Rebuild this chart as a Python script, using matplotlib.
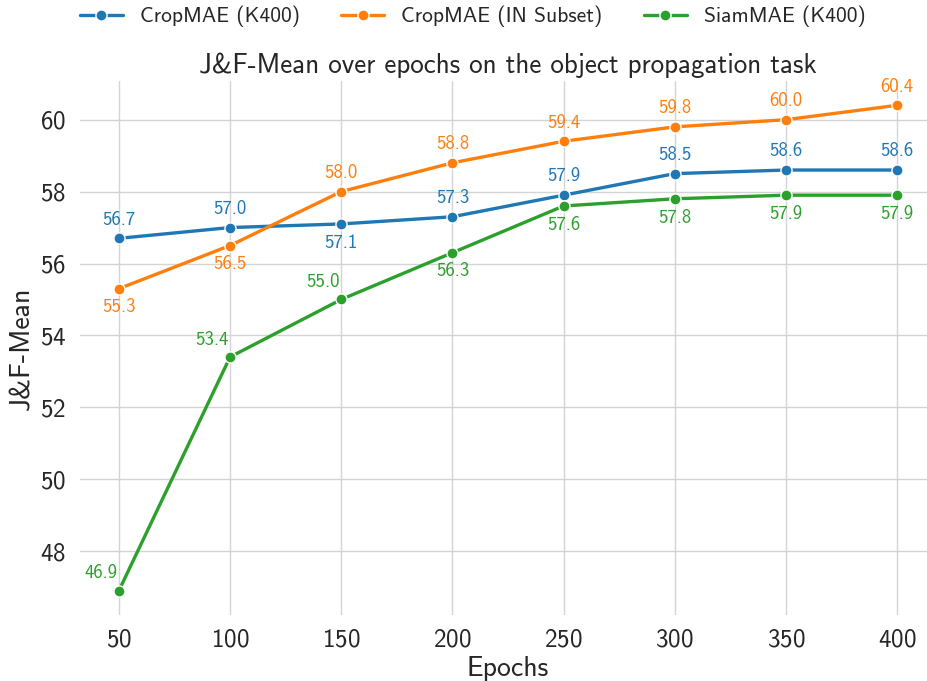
import matplotlib

matplotlib.use("Agg")
import matplotlib.pyplot as plt
import seaborn as sns

epochs = [50, 100, 150, 200, 250, 300, 350, 400]
cropmae_k400 = [56.7, 57.0, 57.1, 57.3, 57.9, 58.5, 58.6, 58.6]
cropmae_in = [55.3, 56.5, 58.0, 58.8, 59.4, 59.8, 60.0, 60.4]
siammae_k400 = [46.9, 53.4, 55.0, 56.3, 57.6, 57.8, 57.9, 57.9]

series_names = ["CropMAE (K400)", "CropMAE (IN Subset)", "SiamMAE (K400)"]
# label placement per point: "a" above, "b" below, "l" above-left
placements = [
    ["a", "a", "b", "a", "a", "a", "a", "a"],
    ["b", "b", "a", "a", "a", "a", "a", "a"],
    ["l", "l", "l", "b", "b", "b", "b", "b"],
]

sns.set_theme(style="whitegrid")
plt.rcParams["font.family"] = ["cmss10", "DejaVu Sans"]
plt.rcParams["axes.formatter.use_mathtext"] = True

colors = sns.color_palette("tab10")[:3]

fig = plt.figure(figsize=(9.27, 6.81), dpi=100)
ax = fig.add_axes([0.0863, 0.097, 0.9234, 0.784])

for name, values, place, color in zip(
    series_names, [cropmae_k400, cropmae_in, siammae_k400], placements, colors
):
    ax.plot(epochs, values, color=color, lw=2.4, marker="o", ms=8,
            mec="white", mew=1.0, label=name)
    for x, y, p in zip(epochs, values, place):
        if p == "a":
            ax.annotate(f"{y:.1f}", (x, y), xytext=(0, 7), textcoords="offset points",
                        ha="center", va="bottom", color=color, fontsize=13.5)
        elif p == "b":
            ax.annotate(f"{y:.1f}", (x, y), xytext=(0, -7), textcoords="offset points",
                        ha="center", va="top", color=color, fontsize=13.5)
        else:
            ax.annotate(f"{y:.1f}", (x, y), xytext=(-1, 6), textcoords="offset points",
                        ha="right", va="bottom", color=color, fontsize=13.5)

ax.set_xticks(epochs)
ax.set_yticks([48, 50, 52, 54, 56, 58, 60])
ax.tick_params(labelsize=18, colors="#262626", pad=4)
ax.set_xlabel("Epochs", fontsize=20, color="#262626", labelpad=3)
ax.set_ylabel("J&F-Mean", fontsize=20, color="#262626", labelpad=4)
ax.set_title("J&F-Mean over epochs on the object propagation task",
             fontsize=19.5, color="#262626", pad=6)
for spine in ax.spines.values():
    spine.set_visible(False)
ax.grid(color="#d4d4d4", lw=1.0)

fig.legend(loc="upper center", bbox_to_anchor=(0.51, 1.02), ncol=3, frameon=False,
           fontsize=15.5, handlelength=2.0, columnspacing=1.9)

fig.savefig("out.png", dpi=100)
